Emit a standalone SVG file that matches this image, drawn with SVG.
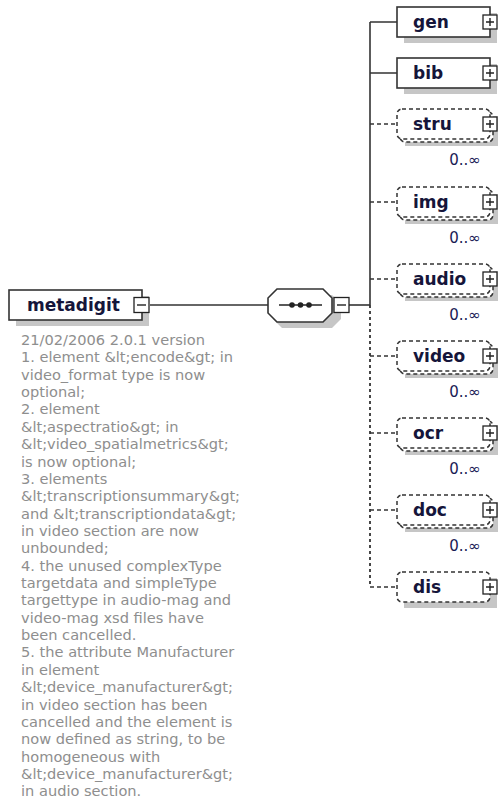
<svg xmlns="http://www.w3.org/2000/svg" width="499" height="799" viewBox="0 0 499 799">
<style>
.bg{fill:#fff}
.shadow{fill:#c6c6c6}
.box{fill:#fff;stroke:#333;stroke-width:1.6}
.dbox{fill:#fff;stroke:#333;stroke-width:1.5;stroke-dasharray:4 3}
.btn{fill:#fff;stroke:#222;stroke-width:1.3}
.sym{stroke:#222;stroke-width:1.4}
.name{font-family:"DejaVu Sans",Verdana,sans-serif;font-weight:bold;font-size:17px;fill:#15153a}
.occ{font-family:"DejaVu Sans",Verdana,sans-serif;font-size:15px;fill:#1a1a55;text-anchor:middle}
.doc{font-family:"DejaVu Sans",Verdana,sans-serif;font-size:14.6px;fill:#8e8e8e}
.line{stroke:#333;stroke-width:1.6;fill:none}
.dline{stroke:#333;stroke-width:1.6;fill:none;stroke-dasharray:4 3}
.vdline{stroke:#333;stroke-width:1.8;fill:none;stroke-dasharray:3 3}
</style>
<defs>
<g id="plus"><rect class="btn" x="0" y="-7" width="14" height="14"/><path class="sym" d="M3 0H11M7 -4V4"/></g>
<g id="minus"><rect class="btn" x="0" y="-7.5" width="15" height="15"/><path class="sym" d="M3 0H12"/></g>
</defs>
<rect class="bg" width="499" height="799"/>

<g id="connectors">
<path class="line" d="M150 305H268"/>
<path class="line" d="M349 305H370"/>
<path class="line" d="M370 22V305"/>
<path class="vdline" d="M370 305V587"/>
<path class="line" d="M370 22H397M370 73H397"/>
<path class="dline" d="M370 124H397M370 202H397M370 279H397M370 356H397M370 433H397M370 510H397M370 587H397"/>
</g>

<g id="metadigit">
<rect class="shadow" x="16" y="296" width="133" height="30"/>
<rect class="box" x="9" y="290" width="133" height="30"/>
<text class="name" x="27" y="311">metadigit</text>
<use href="#minus" x="134" y="305"/>
<text class="doc" x="21" y="345">
<tspan x="21" dy="0">21/02/2006 2.0.1 version</tspan>
<tspan x="21" dy="17.36">1. element &amp;lt;encode&amp;gt; in</tspan>
<tspan x="21" dy="17.36">video_format type is now</tspan>
<tspan x="21" dy="17.36">optional;</tspan>
<tspan x="21" dy="17.36">2. element</tspan>
<tspan x="21" dy="17.36">&amp;lt;aspectratio&amp;gt; in</tspan>
<tspan x="21" dy="17.36">&amp;lt;video_spatialmetrics&amp;gt;</tspan>
<tspan x="21" dy="17.36">is now optional;</tspan>
<tspan x="21" dy="17.36">3. elements</tspan>
<tspan x="21" dy="17.36">&amp;lt;transcriptionsummary&amp;gt;</tspan>
<tspan x="21" dy="17.36">and &amp;lt;transcriptiondata&amp;gt;</tspan>
<tspan x="21" dy="17.36">in video section are now</tspan>
<tspan x="21" dy="17.36">unbounded;</tspan>
<tspan x="21" dy="17.36">4. the unused complexType</tspan>
<tspan x="21" dy="17.36">targetdata and simpleType</tspan>
<tspan x="21" dy="17.36">targettype in audio-mag and</tspan>
<tspan x="21" dy="17.36">video-mag xsd files have</tspan>
<tspan x="21" dy="17.36">been cancelled.</tspan>
<tspan x="21" dy="17.36">5. the attribute Manufacturer</tspan>
<tspan x="21" dy="17.36">in element</tspan>
<tspan x="21" dy="17.36">&amp;lt;device_manufacturer&amp;gt;</tspan>
<tspan x="21" dy="17.36">in video section has been</tspan>
<tspan x="21" dy="17.36">cancelled and the element is</tspan>
<tspan x="21" dy="17.36">now defined as string, to be</tspan>
<tspan x="21" dy="17.36">homogeneous with</tspan>
<tspan x="21" dy="17.36">&amp;lt;device_manufacturer&amp;gt;</tspan>
<tspan x="21" dy="17.36">in audio section.</tspan>
</text>
</g>

<g id="sequence">
<path class="shadow" d="M282 295H332L341 304V319L332 328H282L273 319V304Z"/>
<path class="box" d="M277 289H323L332 298V313L323 322H277L268 313V298Z"/>
<path class="sym" d="M279 305H322"/>
<circle cx="292" cy="305" r="2.8" fill="#222"/>
<circle cx="300.5" cy="305" r="2.8" fill="#222"/>
<circle cx="309" cy="305" r="2.8" fill="#222"/>
<use href="#minus" x="334" y="305"/>
</g>

<g id="gen">
<rect class="shadow" x="404" y="13" width="93" height="30"/>
<rect class="box" x="397" y="7" width="93" height="30"/>
<text class="name" x="413" y="28">gen</text>
<use href="#plus" x="483" y="22"/>
</g>

<g id="bib">
<rect class="shadow" x="404" y="64" width="93" height="30"/>
<rect class="box" x="397" y="58" width="93" height="30"/>
<text class="name" x="413" y="79">bib</text>
<use href="#plus" x="483" y="73"/>
</g>

<g id="stru">
<rect class="shadow" x="405" y="116" width="93" height="30"/>
<rect class="dbox" x="400" y="112" width="93" height="30" rx="5"/>
<rect class="dbox" x="397" y="109" width="93" height="30" rx="5"/>
<text class="name" x="413" y="130">stru</text>
<use href="#plus" x="483" y="124"/>
<text class="occ" x="465" y="165">0..∞</text>
</g>

<g id="img">
<rect class="shadow" x="405" y="194" width="93" height="30"/>
<rect class="dbox" x="400" y="190" width="93" height="30" rx="5"/>
<rect class="dbox" x="397" y="187" width="93" height="30" rx="5"/>
<text class="name" x="413" y="208">img</text>
<use href="#plus" x="483" y="202"/>
<text class="occ" x="465" y="243">0..∞</text>
</g>

<g id="audio">
<rect class="shadow" x="405" y="271" width="93" height="30"/>
<rect class="dbox" x="400" y="267" width="93" height="30" rx="5"/>
<rect class="dbox" x="397" y="264" width="93" height="30" rx="5"/>
<text class="name" x="413" y="285">audio</text>
<use href="#plus" x="483" y="279"/>
<text class="occ" x="465" y="320">0..∞</text>
</g>

<g id="video">
<rect class="shadow" x="405" y="348" width="93" height="30"/>
<rect class="dbox" x="400" y="344" width="93" height="30" rx="5"/>
<rect class="dbox" x="397" y="341" width="93" height="30" rx="5"/>
<text class="name" x="413" y="362">video</text>
<use href="#plus" x="483" y="356"/>
<text class="occ" x="465" y="397">0..∞</text>
</g>

<g id="ocr">
<rect class="shadow" x="405" y="425" width="93" height="30"/>
<rect class="dbox" x="400" y="421" width="93" height="30" rx="5"/>
<rect class="dbox" x="397" y="418" width="93" height="30" rx="5"/>
<text class="name" x="413" y="439">ocr</text>
<use href="#plus" x="483" y="433"/>
<text class="occ" x="465" y="474">0..∞</text>
</g>

<g id="doc">
<rect class="shadow" x="405" y="502" width="93" height="30"/>
<rect class="dbox" x="400" y="498" width="93" height="30" rx="5"/>
<rect class="dbox" x="397" y="495" width="93" height="30" rx="5"/>
<text class="name" x="413" y="516">doc</text>
<use href="#plus" x="483" y="510"/>
<text class="occ" x="465" y="551">0..∞</text>
</g>

<g id="dis">
<rect class="shadow" x="404" y="578" width="93" height="30"/>
<rect class="dbox" x="397" y="572" width="93" height="30" rx="5"/>
<text class="name" x="413" y="593">dis</text>
<use href="#plus" x="483" y="587"/>
</g>
</svg>
